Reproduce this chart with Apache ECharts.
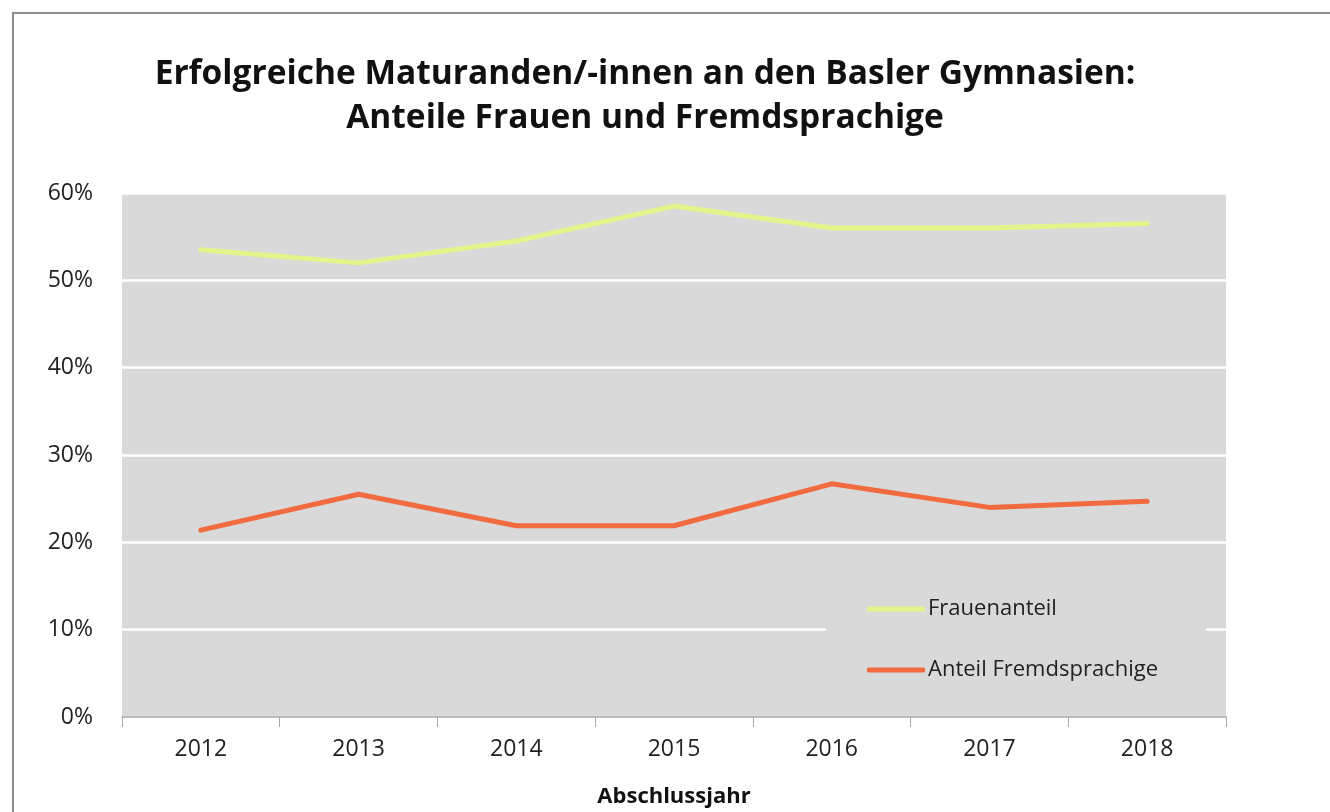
<!DOCTYPE html>
<html>
<head>
<meta charset="utf-8">
<script src="https://cdn.jsdelivr.net/npm/echarts@6/dist/echarts.min.js"></script>
<style>
  html, body { margin: 0; padding: 0; background: #fff; }
  #chart { width: 1330px; height: 812px; }
</style>
</head>
<body>
<div id="chart"></div>
<script>
// Daten
var years = ['2012', '2013', '2014', '2015', '2016', '2017', '2018'];
var frauenanteil = [0.535, 0.520, 0.545, 0.585, 0.560, 0.560, 0.565];
var fremdsprachige = [0.214, 0.255, 0.219, 0.219, 0.267, 0.240, 0.247];

var font = '"Open Sans", "Noto Sans", sans-serif';

var chart = echarts.init(document.getElementById('chart'));
var option = {
    backgroundColor: '#fff',
    animation: false,
    title: {
        text: 'Erfolgreiche Maturanden/-innen an den Basler Gymnasien:\nAnteile Frauen und Fremdsprachige',
        left: 640,
        top: 47,
        textAlign: 'center',
        textStyle: {
            fontFamily: font,
            fontWeight: 'bold',
            fontSize: 33.5,
            lineHeight: 44,
            color: '#111'
        }
    },
    graphic: [
        {
            type: 'rect',
            shape: { x: 13, y: 13, width: 1330, height: 820 },
            style: { fill: 'none', stroke: '#8c8c8c', lineWidth: 2 },
            silent: true
        }
    ],
    legend: {
        orient: 'vertical',
        left: 826,
        top: 585,
        backgroundColor: '#d9d9d9',
        padding: [12, 48, 18, 41],
        itemGap: 37,
        itemWidth: 58,
        itemHeight: 5,
        icon: 'roundRect',
        data: ['Frauenanteil', 'Anteil Fremdsprachige'],
        textStyle: {
            fontFamily: font,
            fontSize: 22,
            lineHeight: 24,
            color: '#222',
            padding: [0, 0, 0, -2]
        }
    },
    grid: {
        left: 122,
        right: 104,
        top: 193,
        bottom: 95,
        outerBoundsMode: 'none',
        show: true,
        backgroundColor: '#d9d9d9',
        borderWidth: 0
    },
    xAxis: {
        type: 'category',
        data: years,
        boundaryGap: true,
        name: 'Abschlussjahr',
        nameLocation: 'middle',
        nameGap: 69,
        nameTextStyle: {
            fontFamily: font,
            fontWeight: 'bold',
            fontSize: 22,
            color: '#111'
        },
        axisLine: { lineStyle: { color: '#a6a6a6', width: 1.5 } },
        axisTick: { show: true, length: 10, lineStyle: { color: '#a6a6a6' } },
        axisLabel: {
            fontFamily: font,
            fontSize: 23,
            color: '#222',
            margin: 21
        },
        splitLine: { show: false }
    },
    yAxis: {
        type: 'value',
        min: 0,
        max: 0.6,
        interval: 0.1,
        axisLine: { show: false },
        axisTick: { show: false },
        axisLabel: {
            fontFamily: font,
            fontSize: 23,
            color: '#222',
            margin: 29,
            formatter: function (v) {
                return Math.round(v * 100) + '%';
            }
        },
        splitLine: { lineStyle: { color: '#ffffff', width: 2.5 } }
    },
    series: [
        {
            name: 'Frauenanteil',
            type: 'line',
            data: frauenanteil,
            symbol: 'none',
            lineStyle: { color: '#e4f38a', width: 5, cap: 'round', join: 'round' },
            itemStyle: { color: '#e4f38a' }
        },
        {
            name: 'Anteil Fremdsprachige',
            type: 'line',
            data: fremdsprachige,
            symbol: 'none',
            lineStyle: { color: '#f26a3f', width: 5, cap: 'round', join: 'round' },
            itemStyle: { color: '#f26a3f' }
        }
    ]
};
chart.setOption(option);
</script>
</body>
</html>
